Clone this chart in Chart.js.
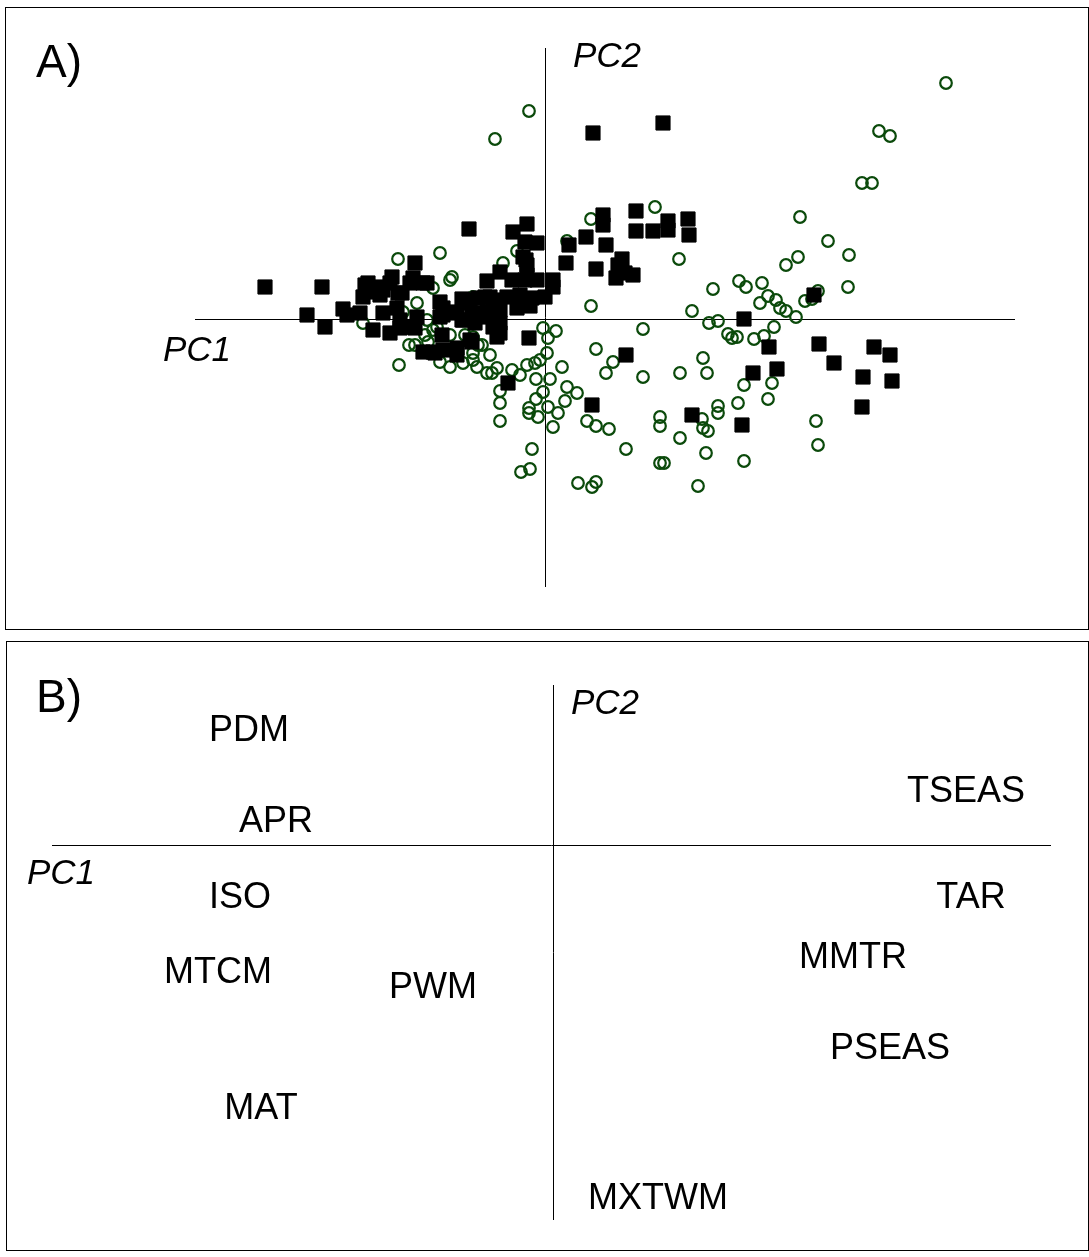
<!DOCTYPE html>
<html>
<head>
<meta charset="utf-8">
<script src="https://cdn.jsdelivr.net/npm/chart.js@4/dist/chart.umd.min.js"></script>
<style>
  body { margin: 0; background: #fff; }
  canvas { position: absolute; }
  #pcaScores { left: 5px; top: 7px; }
  #pcaLoadings { left: 6px; top: 641px; }
</style>
</head>
<body>
<canvas id="pcaScores" width="1084" height="623"></canvas>
<canvas id="pcaLoadings" width="1083" height="610"></canvas>
<script>
// PC1 / PC2 scores, group 1 (filled squares)
const squarePoints = [
  [-2.80, 0.32], [-2.23, 0.32], [-2.38, 0.04], [-2.20, -0.08], [-2.02, 0.10], [-1.98, 0.04],
  [-1.85, 0.06], [-1.77, 0.36], [-1.82, 0.22], [-1.72, 0.27], [-1.53, 0.42], [-1.62, 0.29],
  [-1.47, 0.26], [-1.48, 0.11], [-1.68, 0.32], [-1.65, 0.24], [-1.35, 0.36], [-1.22, 0.36],
  [-1.62, 0.06], [-1.28, 0.02], [-1.72, -0.11], [-1.55, -0.14], [-1.40, -0.08], [-0.76, 0.90],
  [-0.32, 0.87], [-0.18, 0.95], [-0.20, 0.77], [-0.08, 0.76], [-1.30, 0.56], [-0.19, 0.59],
  [-1.32, 0.41], [-1.18, 0.36], [-0.58, 0.38], [-0.45, 0.47], [-0.33, 0.39], [-0.20, 0.39],
  [-0.08, 0.39], [0.08, 0.39], [-1.05, 0.17], [-0.83, 0.20], [-0.75, 0.19], [-0.60, 0.22],
  [-0.52, 0.19], [-0.38, 0.22], [-0.25, 0.24], [-0.13, 0.21], [0.00, 0.22], [-1.02, 0.11],
  [-0.88, 0.07], [-0.73, 0.06], [-0.58, 0.07], [-0.45, 0.09], [-0.28, 0.11], [-0.15, 0.13],
  [-1.02, 0.04], [-0.83, -0.01], [-0.70, -0.04], [-0.45, -0.04], [-0.45, -0.14], [-0.16, -0.19],
  [-1.45, -0.09], [-1.30, -0.09], [-1.45, -0.01], [-1.03, -0.16], [-1.22, -0.33], [-1.12, -0.33],
  [-1.02, -0.31], [-0.88, -0.29], [-0.88, -0.36], [-0.75, -0.21], [-0.37, -0.64], [-0.73, -0.23],
  [-0.22, 0.62], [-0.18, 0.54], [-0.18, 0.44], [-0.55, 0.22], [-0.67, 0.21], [-0.82, 0.19],
  [-0.72, 0.06], [-0.55, 0.07], [-0.52, -0.08], [-0.48, -0.18], [-1.05, 0.02], [-0.92, 0.06],
  [-0.82, 0.16], [-0.58, 0.02], [-0.82, -0.01], [-1.80, 0.34], [-1.55, 0.36], [-1.43, 0.26],
  [-1.10, -0.34], [0.91, 1.08], [0.58, 1.04], [0.58, 0.94], [0.91, 0.88], [1.08, 0.88],
  [1.23, 0.98], [1.23, 0.89], [1.43, 1.00], [1.44, 0.84], [0.41, 0.82], [0.24, 0.74],
  [0.61, 0.74], [0.77, 0.60], [0.73, 0.54], [0.71, 0.41], [0.88, 0.44], [0.80, 0.46],
  [0.21, 0.56], [0.51, 0.50], [0.08, 0.32], [0.48, 1.86], [1.18, 1.96], [0.81, -0.36],
  [0.47, -0.86], [1.99, 0.00], [2.24, -0.28], [2.69, 0.24], [2.74, -0.25], [3.29, -0.28],
  [3.45, -0.36], [2.89, -0.44], [2.08, -0.54], [2.32, -0.50], [3.18, -0.58], [3.47, -0.62],
  [3.17, -0.88], [1.47, -0.96], [1.97, -1.06]
];

// PC1 / PC2 scores, group 2 (open circles)
const circlePoints = [
  [-1.47, 0.60], [-1.82, -0.04], [-1.42, 0.07], [-1.46, -0.46], [-1.36, -0.26], [-1.05, 0.66],
  [-0.28, 0.68], [-0.42, 0.56], [-0.93, 0.42], [-1.28, 0.16], [-0.78, 0.19], [-0.72, 0.19],
  [-0.02, -0.09], [0.11, -0.12], [0.03, -0.19], [-1.30, -0.26], [-1.05, -0.43], [-0.95, -0.48],
  [-0.82, -0.44], [-0.72, -0.34], [-0.80, -0.16], [-0.68, -0.48], [-0.55, -0.36], [-0.53, -0.54],
  [-0.48, -0.49], [-0.33, -0.51], [-0.18, -0.46], [-0.10, -0.44], [-0.05, -0.41], [0.02, -0.34],
  [-1.18, -0.01], [-1.12, -0.11], [1.10, 1.12], [0.46, 1.00], [0.22, 0.78], [1.34, 0.60],
  [0.46, 0.13], [1.68, 0.30], [1.47, 0.08], [0.98, -0.10], [0.51, -0.30], [0.68, -0.43],
  [0.61, -0.54], [0.98, -0.58], [1.35, -0.54], [0.17, -0.48], [-0.63, -0.26], [-0.25, -0.56],
  [-0.09, -0.60], [0.05, -0.60], [-0.45, -0.72], [-0.45, -0.84], [0.22, -0.68], [0.32, -0.74],
  [0.20, -0.82], [-0.02, -0.73], [-0.09, -0.80], [0.03, -0.88], [0.13, -0.94], [-0.16, -0.89],
  [-0.16, -0.94], [-0.07, -0.98], [-0.45, -1.02], [0.42, -1.02], [0.51, -1.07], [0.64, -1.10],
  [0.08, -1.08], [1.15, -0.98], [1.15, -1.07], [1.35, -1.19], [-0.13, -1.30], [0.81, -1.30],
  [1.15, -1.44], [1.19, -1.44], [-0.24, -1.53], [-0.15, -1.50], [0.33, -1.64], [0.47, -1.68],
  [0.51, -1.63], [2.55, 1.02], [2.83, 0.78], [3.04, 0.64], [2.53, 0.62], [2.41, 0.54],
  [1.94, 0.38], [2.01, 0.32], [2.17, 0.36], [3.03, 0.32], [2.73, 0.28], [2.60, 0.18],
  [2.67, 0.20], [2.23, 0.23], [2.31, 0.19], [2.15, 0.16], [2.35, 0.11], [2.41, 0.08],
  [2.51, 0.02], [1.64, -0.04], [1.73, -0.02], [1.83, -0.15], [1.87, -0.19], [1.92, -0.18],
  [2.09, -0.20], [2.19, -0.17], [2.29, -0.08], [1.58, -0.39], [1.62, -0.54], [1.99, -0.66],
  [2.27, -0.64], [1.93, -0.84], [2.23, -0.80], [1.73, -0.87], [1.73, -0.94], [1.57, -1.00],
  [1.58, -1.09], [1.63, -1.12], [2.71, -1.02], [2.73, -1.26], [1.61, -1.34], [1.99, -1.42],
  [1.53, -1.67], [4.01, 2.36], [3.34, 1.88], [3.45, 1.83], [3.17, 1.36], [3.27, 1.36],
  [-0.16, 2.08], [-0.50, 1.80], [-1.12, 0.31], [-0.95, 0.39], [-1.08, -0.08], [-1.20, -0.16],
  [-1.17, -0.23], [-0.95, -0.16], [-0.67, -0.26], [-0.72, -0.41], [-0.58, -0.54], [-0.72, 0.22],
  [-0.72, -0.18]
];

// climate variable loadings on PC1 / PC2
const variableNames = ['PDM', 'TSEAS', 'APR', 'ISO', 'TAR', 'MTCM', 'MMTR', 'PWM', 'PSEAS', 'MAT', 'MXTWM'];
const loadingPC1 = [-0.608, 0.826, -0.554, -0.626, 0.836, -0.670, 0.600, -0.240, 0.674, -0.584, 0.210];
const loadingPC2 = [0.234, 0.112, 0.052, -0.100, -0.100, -0.250, -0.220, -0.280, -0.402, -0.522, -0.702];

const FONT = "'Liberation Sans', Arial, sans-serif";

// frame, zero axes and panel texts
const panelDecor = {
  id: 'panelDecor',
  beforeDatasetsDraw(chart, args, opts) {
    const ctx = chart.ctx;
    const { left, right, top, bottom } = chart.chartArea;
    const x0 = Math.round(chart.scales.x.getPixelForValue(0)) + 0.5;
    const y0 = Math.round(chart.scales.y.getPixelForValue(0)) + 0.5;
    ctx.save();
    ctx.strokeStyle = '#000';
    ctx.lineWidth = 1;
    ctx.strokeRect(0.5, 0.5, chart.width - 1, chart.height - 1);
    ctx.beginPath();
    ctx.moveTo(left, y0); ctx.lineTo(right, y0);
    ctx.moveTo(x0, top); ctx.lineTo(x0, bottom);
    ctx.stroke();
    ctx.fillStyle = '#000';
    ctx.textBaseline = 'alphabetic';
    ctx.font = '46px ' + FONT;
    ctx.fillText(opts.letter, opts.letterPos[0], opts.letterPos[1]);
    ctx.font = 'italic 35px ' + FONT;
    ctx.fillText('PC2', opts.pc2Pos[0], opts.pc2Pos[1]);
    ctx.fillText('PC1', opts.pc1Pos[0], opts.pc1Pos[1]);
    ctx.restore();
  },
  afterDatasetsDraw(chart, args, opts) {
    if (!opts.names) return;
    const ctx = chart.ctx;
    const meta = chart.getDatasetMeta(0);
    ctx.save();
    ctx.fillStyle = '#000';
    ctx.font = '36px ' + FONT;
    ctx.textAlign = 'center';
    ctx.textBaseline = 'alphabetic';
    meta.data.forEach((pt, i) => {
      ctx.fillText(opts.names[i], pt.x, pt.y + 13);
    });
    ctx.restore();
  }
};

const hiddenScales = (xmin, xmax, ymin, ymax) => ({
  x: { type: 'linear', min: xmin, max: xmax, display: false },
  y: { type: 'linear', min: ymin, max: ymax, display: false }
});

new Chart(document.getElementById('pcaScores'), {
  type: 'scatter',
  data: {
    datasets: [
      {
        data: squarePoints.map(p => ({ x: p[0], y: p[1] })),
        pointStyle: 'rect',
        pointRadius: 10,
        backgroundColor: '#000',
        borderColor: '#000',
        borderWidth: 1
      },
      {
        data: circlePoints.map(p => ({ x: p[0], y: p[1] })),
        pointStyle: 'circle',
        pointRadius: 5.8,
        backgroundColor: 'rgba(0,0,0,0)',
        borderColor: '#0b4a0b',
        borderWidth: 2.2
      }
    ]
  },
  options: {
    responsive: false,
    animation: false,
    devicePixelRatio: 1,
    events: [],
    layout: { padding: { left: 190, top: 41, right: 74, bottom: 43 } },
    scales: hiddenScales(-3.5, 4.7, -2.68, 2.71),
    plugins: {
      legend: { display: false },
      tooltip: { enabled: false },
      panelDecor: { letter: 'A)', letterPos: [31, 70], pc2Pos: [568, 60], pc1Pos: [158, 354] }
    }
  },
  plugins: [panelDecor]
});

new Chart(document.getElementById('pcaLoadings'), {
  type: 'scatter',
  data: {
    datasets: [{
      data: loadingPC1.map((v, i) => ({ x: v, y: loadingPC2[i] })),
      pointRadius: 0
    }]
  },
  options: {
    responsive: false,
    animation: false,
    devicePixelRatio: 1,
    events: [],
    layout: { padding: { left: 46, top: 44, right: 38, bottom: 31 } },
    scales: hiddenScales(-1.002, 0.996, -0.75, 0.32),
    plugins: {
      legend: { display: false },
      tooltip: { enabled: false },
      panelDecor: { names: variableNames, letter: 'B)', letterPos: [30, 71], pc2Pos: [565, 73], pc1Pos: [21, 243] }
    }
  },
  plugins: [panelDecor]
});
</script>
</body>
</html>
